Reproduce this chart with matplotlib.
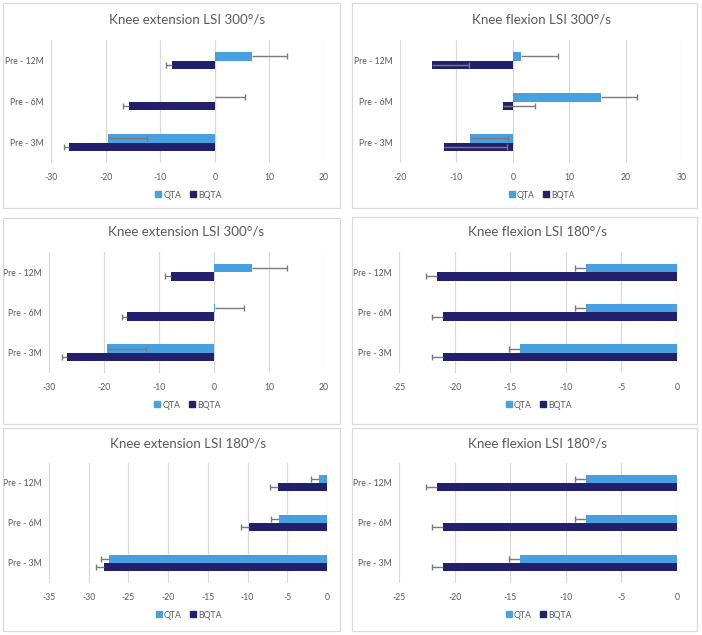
import numpy as np
import matplotlib
matplotlib.use("Agg")
import matplotlib.pyplot as plt
from matplotlib.patches import Rectangle
from matplotlib.lines import Line2D

plt.rcParams["font.family"] = ["Lato", "DejaVu Sans"]

W, H = 702, 635
QTA_COLOR = "#48A0E0"
BQTA_COLOR = "#221F6C"
TEXT_COLOR = "#595959"
GRID_COLOR = "#D9D9D9"
ERR_COLOR = "#7A7A7A"

categories = ["Pre - 3M", "Pre - 6M", "Pre - 12M"]
series_names = ["QTA", "BQTA"]

# Knee extension LSI 300°/s
ext300_qta = [-19.5, 0.1, 6.9]
ext300_qta_lo = [0, 0, 0]
ext300_qta_hi = [7.1, 5.4, 6.4]
ext300_bqta = [-26.7, -15.8, -7.9]
ext300_bqta_lo = [1.0, 1.0, 1.0]
ext300_bqta_hi = [0, 0, 0]
ext300_ticks = [-30, -20, -10, 0, 10, 20]

# Knee flexion LSI 300°/s
flx300_qta = [-7.5, 15.6, 1.4]
flx300_qta_lo = [0, 0, 0]
flx300_qta_hi = [6.7, 6.5, 6.7]
flx300_bqta = [-12.2, -1.8, -14.4]
flx300_bqta_lo = [0, 0, 0]
flx300_bqta_hi = [11.2, 5.7, 6.7]
flx300_ticks = [-20, -10, 0, 10, 20, 30]

# Knee flexion LSI 180°/s
flx180_qta = [-14.1, -8.2, -8.2]
flx180_qta_lo = [1.0, 1.0, 1.0]
flx180_qta_hi = [0, 0, 0]
flx180_bqta = [-21.05, -21.05, -21.6]
flx180_bqta_lo = [1.0, 1.0, 1.0]
flx180_bqta_hi = [0, 0, 0]
flx180_ticks = [-25, -20, -15, -10, -5, 0]

# Knee extension LSI 180°/s
ext180_qta = [-27.4, -6.1, -1.05]
ext180_qta_lo = [1.0, 1.0, 1.0]
ext180_qta_hi = [0, 0, 0]
ext180_bqta = [-28.1, -9.85, -6.15]
ext180_bqta_lo = [1.0, 1.0, 1.0]
ext180_bqta_hi = [0, 0, 0]
ext180_ticks = [-35, -30, -25, -20, -15, -10, -5, 0]

fig = plt.figure(figsize=(W / 100, H / 100), dpi=100)


def fig_rect(x0, y0, x1, y1):
    # pixel box (top-left origin) -> figure fraction
    return [x0 / W, 1 - y1 / H, (x1 - x0) / W, (y1 - y0) / H]


def panel(box, plot, title, ticks, qta, qta_lo, qta_hi, bqta, bqta_lo, bqta_hi):
    fig.patches.append(Rectangle((box[0] / W, 1 - box[3] / H), (box[2] - box[0]) / W,
                                 (box[3] - box[1]) / H, transform=fig.transFigure,
                                 fill=False, edgecolor=GRID_COLOR, linewidth=0.9))
    ax = fig.add_axes(fig_rect(*plot))
    y = np.arange(len(categories))
    h = 0.21
    for vals, lo, hi, off, col in [(qta, qta_lo, qta_hi, h / 2, QTA_COLOR),
                                   (bqta, bqta_lo, bqta_hi, -h / 2, BQTA_COLOR)]:
        vals = np.array(vals)
        lo = np.array(lo)
        hi = np.array(hi)
        ax.barh(y + off, vals, height=h, color=col, zorder=2)
        ax.errorbar(vals, y + off, xerr=[lo, hi], fmt="none", ecolor=ERR_COLOR,
                    elinewidth=1.0, capsize=0, zorder=3)
        ends = np.where(hi > 0, vals + hi, vals - lo)
        ax.plot(ends, y + off, ls="none", marker="|", markersize=4.5,
                markeredgewidth=1.0, color=ERR_COLOR, zorder=3)
    ax.set_xlim(ticks[0], ticks[-1])
    ax.set_ylim(-0.5, len(categories) - 0.5)
    ax.set_xticks(ticks)
    ax.set_xticklabels([str(t) for t in ticks])
    ax.set_yticks(y)
    ax.set_yticklabels(categories)
    ax.tick_params(length=0, labelsize=6.2, colors=TEXT_COLOR, pad=7)
    ax.tick_params(axis="y", pad=5)
    ax.grid(axis="x", color=GRID_COLOR, linewidth=0.9, zorder=0)
    ax.set_axisbelow(True)
    for s in ax.spines.values():
        s.set_visible(False)
    cx = (plot[0] + plot[2]) / 2
    fig.text(cx / W, 1 - (plot[1] - 20) / H, title, ha="center", va="center",
             fontsize=9.6, color=TEXT_COLOR)
    handles = [Line2D([], [], ls="none", marker="s", markersize=4.5, color=QTA_COLOR),
               Line2D([], [], ls="none", marker="s", markersize=4.5, color=BQTA_COLOR)]
    fig.legend(handles, series_names, loc="center", ncol=2,
               bbox_to_anchor=(cx / W, 1 - (plot[3] + 32) / H), frameon=False,
               fontsize=6.3, labelcolor=TEXT_COLOR, handletextpad=0.1,
               columnspacing=0.8, handlelength=1.0)
    return ax


panel((3, 3, 340, 208), (51, 40, 324, 163), "Knee extension LSI 300°/s", ext300_ticks,
      ext300_qta, ext300_qta_lo, ext300_qta_hi, ext300_bqta, ext300_bqta_lo, ext300_bqta_hi)
panel((352, 3, 697, 208), (400, 40, 682, 163), "Knee flexion LSI 300°/s", flx300_ticks,
      flx300_qta, flx300_qta_lo, flx300_qta_hi, flx300_bqta, flx300_bqta_lo, flx300_bqta_hi)
panel((3, 218, 340, 424), (49, 252, 324, 373), "Knee extension LSI 300°/s", ext300_ticks,
      ext300_qta, ext300_qta_lo, ext300_qta_hi, ext300_bqta, ext300_bqta_lo, ext300_bqta_hi)
panel((352, 217, 697, 424), (399, 252, 677, 373), "Knee flexion LSI 180°/s", flx180_ticks,
      flx180_qta, flx180_qta_lo, flx180_qta_hi, flx180_bqta, flx180_bqta_lo, flx180_bqta_hi)
panel((3, 428, 340, 631), (49, 463, 327, 583), "Knee extension LSI 180°/s", ext180_ticks,
      ext180_qta, ext180_qta_lo, ext180_qta_hi, ext180_bqta, ext180_bqta_lo, ext180_bqta_hi)
panel((352, 428, 697, 631), (399, 463, 677, 583), "Knee flexion LSI 180°/s", flx180_ticks,
      flx180_qta, flx180_qta_lo, flx180_qta_hi, flx180_bqta, flx180_bqta_lo, flx180_bqta_hi)

fig.savefig("out.png", dpi=100, facecolor="white")
